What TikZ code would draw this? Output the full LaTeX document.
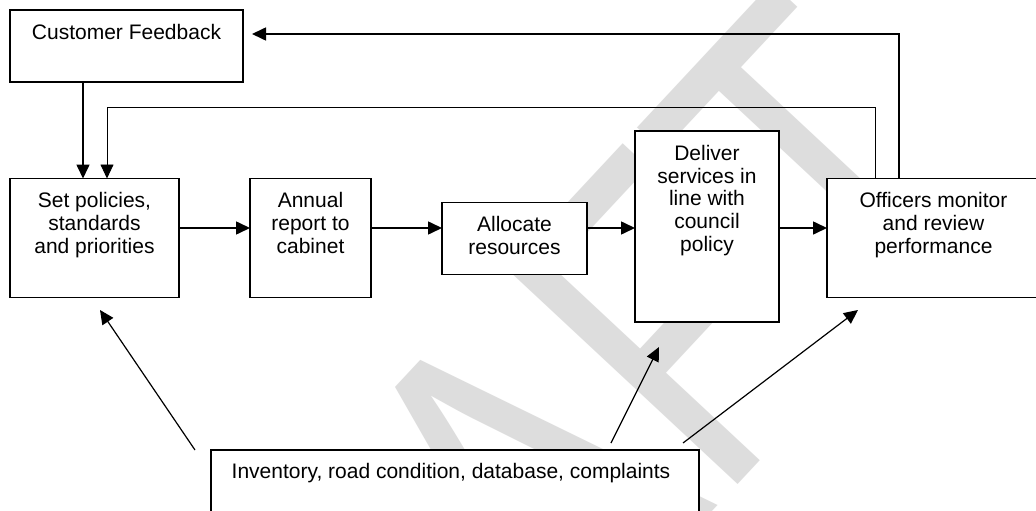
\documentclass[tikz,border=0pt]{standalone}
\usepackage{fontspec}
\setmainfont{Liberation Sans}
\usetikzlibrary{arrows.meta}
\definecolor{wmgray}{RGB}{221,221,221}
\tikzset{
  box/.style={draw, fill=white, line width=1.6pt, inner sep=0pt, outer sep=0pt},
  lbl/.style={anchor=north, inner sep=0pt, outer sep=0pt, align=center,
              font=\fontsize{21}{22.8}\selectfont},
  arr/.style={-{Triangle[length=14pt,width=13pt]}, line width=1.6pt},
  thinarr/.style={-{Triangle[length=14pt,width=13pt]}, line width=0.9pt},
  diagarr/.style={-{Triangle[length=14pt,width=13pt]}, line width=1.2pt},
  wmark/.style={text=wmgray, inner sep=0pt, outer sep=0pt,
                font=\fontsize{460}{460}\selectfont}
}
\begin{document}
\begin{tikzpicture}[x=1pt,y=-1pt]
\useasboundingbox (0,0) rectangle (1036,511);
\clip (0,0) rectangle (1036,511);
\fill[white] (0,0) rectangle (1036,511);
% watermark
\begin{scope}[shift={(215,1045)}, rotate=47, xscale=0.76]
  \node[wmark, anchor=base west, transform shape] (wm) at (0,0) {DRAFT};
\end{scope}
% boxes
\node[box, anchor=north west, minimum width=233pt, minimum height=72pt]  (cf)  at (10,10)   {};
\node[box, anchor=north west, minimum width=169pt, minimum height=119pt] (sp)  at (10,178.5) {};
\node[box, anchor=north west, minimum width=121pt, minimum height=119pt] (ar)  at (250,178.5) {};
\node[box, anchor=north west, minimum width=145pt, minimum height=72pt]  (al)  at (442,202.5) {};
\node[box, anchor=north west, minimum width=144pt, minimum height=191pt] (ds)  at (635,131) {};
\node[box, anchor=north west, minimum width=213pt, minimum height=119pt] (om)  at (827,178.5) {};
\node[box, anchor=north west, minimum width=488pt, minimum height=80pt]  (inv) at (211,450) {};
% texts
\node[lbl] (cft)  at ([yshift=-14pt]cf.north)  {Customer Feedback};
\node[lbl] (spt)  at ([yshift=-14pt]sp.north)  {Set policies,\\standards\\and priorities};
\node[lbl] (art)  at ([yshift=-14pt]ar.north)  {Annual\\report to\\cabinet};
\node[lbl] (alt)  at ([yshift=-14pt]al.north)  {Allocate\\resources};
\node[lbl] (dst)  at ([yshift=-14pt]ds.north)  {Deliver\\services in\\line with\\council\\policy};
\node[lbl] (omt)  at ([yshift=-14pt]om.north)  {Officers monitor\\and review\\performance};
\node[lbl] (invt) at ([xshift=-4pt,yshift=-13pt]inv.north) {Inventory, road condition, database, complaints};
% main row
\coordinate (row) at (0,228);
\draw[arr] (sp.east |- row) -- (ar.west |- row);
\draw[arr] (ar.east |- row) -- (al.west |- row);
\draw[arr] (al.east |- row) -- (ds.west |- row);
\draw[arr] (ds.east |- row) -- (om.west |- row);
% feedback loops
\draw[arr] ([xshift=-34.5pt]om.north) |- ([xshift=9pt,yshift=12pt]cf.east);
\draw[thinarr] ([xshift=-58.5pt]om.north) -- ++(0,-71) -| ([xshift=12.5pt]sp.north);
\draw[arr] ([xshift=-43.5pt]cf.south) -- ([xshift=-11.5pt]sp.north);
% inventory arrows
\coordinate (s1) at (195,450);
\coordinate (t1) at (100,310);
\coordinate (s2) at (611,443);
\coordinate (t2) at (659,347);
\coordinate (s3) at (683,443);
\coordinate (t3) at (858,310);
\draw[diagarr] (s1) -- (t1);
\draw[diagarr] (s2) -- (t2);
\draw[diagarr] (s3) -- (t3);
\end{tikzpicture}
\end{document}
